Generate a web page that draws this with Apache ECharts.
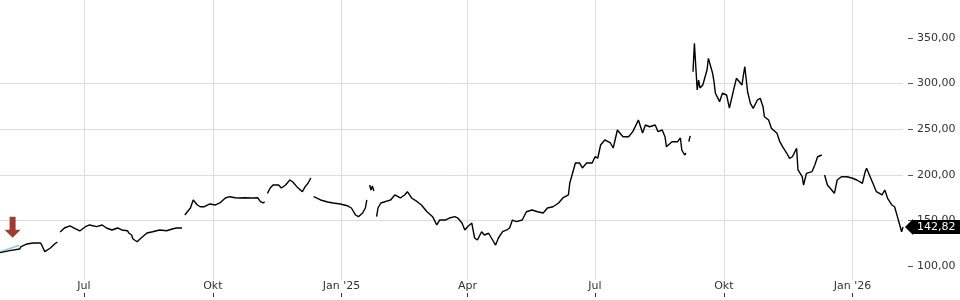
<!DOCTYPE html>
<html>
<head>
<meta charset="utf-8">
<script src="https://cdn.jsdelivr.net/npm/echarts@6/dist/echarts.min.js"></script>
<style>
html, body { margin: 0; padding: 0; background: #fff; }
#chart { width: 960px; height: 300px; }
</style>
</head>
<body>
<div id="chart"></div>
<script>
// Kursdaten (null = Lücke im Chart)
const dates = [
  '2024-05-02','2024-05-09','2024-05-16','2024-05-17','2024-05-21','2024-05-26','2024-05-31','2024-06-01','2024-06-03','2024-06-07','2024-06-10','2024-06-12','2024-06-13',
  '2024-06-14','2024-06-17','2024-06-21','2024-06-25','2024-06-28','2024-07-02','2024-07-05','2024-07-10','2024-07-14','2024-07-17','2024-07-21','2024-07-25','2024-07-28',
  '2024-08-01','2024-08-02','2024-08-04','2024-08-05','2024-08-08','2024-08-10','2024-08-15','2024-08-19','2024-08-24','2024-08-29','2024-09-02','2024-09-05','2024-09-09','2024-09-10',
  '2024-09-11','2024-09-15','2024-09-17','2024-09-20','2024-09-22','2024-09-25','2024-09-29','2024-10-03','2024-10-06','2024-10-10','2024-10-13','2024-10-17','2024-10-20',
  '2024-10-24','2024-10-28','2024-10-31','2024-11-02','2024-11-04','2024-11-06','2024-11-07','2024-11-08',
  '2024-11-09','2024-11-11','2024-11-13','2024-11-17','2024-11-19','2024-11-22','2024-11-25','2024-11-27','2024-11-30','2024-12-04','2024-12-06','2024-12-08','2024-12-10','2024-12-11',
  '2024-12-12','2024-12-14','2024-12-17','2024-12-22','2024-12-26','2024-12-31','2025-01-05','2025-01-08','2025-01-11','2025-01-13','2025-01-16','2025-01-18','2025-01-19','2025-01-20',
  '2025-01-21','2025-01-22','2025-01-23','2025-01-24','2025-01-25',
  '2025-01-26','2025-01-27','2025-01-29','2025-02-01','2025-02-05','2025-02-08','2025-02-12','2025-02-15','2025-02-17','2025-02-20','2025-02-24','2025-02-27',
  '2025-03-03','2025-03-07','2025-03-10','2025-03-12','2025-03-16','2025-03-19','2025-03-23','2025-03-25','2025-03-28','2025-03-30',
  '2025-04-01','2025-04-04','2025-04-06','2025-04-08','2025-04-11','2025-04-13','2025-04-16','2025-04-18','2025-04-21','2025-04-23','2025-04-26','2025-04-29',
  '2025-05-01','2025-05-03','2025-05-06','2025-05-10','2025-05-13','2025-05-17','2025-05-21','2025-05-25','2025-05-28',
  '2025-06-01','2025-06-05','2025-06-08','2025-06-12','2025-06-13','2025-06-15','2025-06-17','2025-06-20','2025-06-22','2025-06-25','2025-06-29',
  '2025-07-01','2025-07-03','2025-07-05','2025-07-08','2025-07-12','2025-07-14','2025-07-17','2025-07-21','2025-07-25','2025-07-28',
  '2025-08-01','2025-08-04','2025-08-06','2025-08-09','2025-08-13','2025-08-15','2025-08-18','2025-08-20','2025-08-21','2025-08-25','2025-08-29','2025-08-31',
  '2025-09-01','2025-09-03','2025-09-04','2025-09-05','2025-09-06','2025-09-07','2025-09-08',
  '2025-09-09','2025-09-10','2025-09-11','2025-09-12','2025-09-13','2025-09-14','2025-09-16','2025-09-19','2025-09-20','2025-09-23','2025-09-24','2025-09-25','2025-09-28','2025-09-30',
  '2025-10-03','2025-10-05','2025-10-08','2025-10-10','2025-10-14','2025-10-15','2025-10-16','2025-10-18','2025-10-20','2025-10-22','2025-10-25','2025-10-27','2025-10-29','2025-10-30',
  '2025-11-02','2025-11-04','2025-11-08','2025-11-10','2025-11-12','2025-11-15','2025-11-17','2025-11-19','2025-11-22','2025-11-23','2025-11-26','2025-11-27','2025-11-29',
  '2025-12-03','2025-12-05','2025-12-07','2025-12-10','2025-12-11',
  '2025-12-12','2025-12-14','2025-12-16','2025-12-19','2025-12-21','2025-12-24','2025-12-28',
  '2026-01-01','2026-01-04','2026-01-08','2026-01-10','2026-01-11','2026-01-13','2026-01-16','2026-01-18','2026-01-22','2026-01-24','2026-01-26','2026-01-29','2026-01-31',
  '2026-02-02','2026-02-04','2026-02-05','2026-02-06'
];
const prices = [
  114.6,116.8,118.6,121.2,124.1,125.2,125.2,122.3,115.7,119.7,124.1,126.3,null,
  137.3,141.7,143.9,140.6,138.4,143.1,145.0,143.1,145.0,141.7,139.5,141.7,139.5,
  138.7,136.2,134.0,129.6,126.6,129.6,136.2,137.6,139.5,138.7,140.6,141.7,141.7,null,
  155.9,163.6,172.4,166.9,165.0,165.0,168.0,166.9,169.1,174.6,176.0,174.9,174.6,
  174.9,174.6,174.6,174.9,170.5,169.1,170.5,null,
  179.7,185.5,188.8,188.8,185.5,188.8,194.3,192.4,187.0,181.5,187.0,190.7,196.5,null,
  176.0,174.6,172.4,170.2,169.1,168.0,166.1,163.6,155.9,154.1,158.1,163.6,172.4,null,
  188.8,183.3,187.7,182.2,null,
  154.1,163.6,169.1,170.5,172.4,177.9,174.6,177.9,181.5,174.6,170.5,166.9,
  159.5,154.1,145.0,150.4,150.4,152.6,154.1,152.6,147.1,139.5,
  143.1,147.1,130.7,128.5,137.6,134.0,135.9,130.7,123.0,130.7,137.6,139.5,
  141.7,150.4,148.6,150.4,159.5,161.4,159.5,158.1,163.6,
  165.0,169.1,174.6,177.9,191.0,202.0,212.9,212.9,207.5,212.9,212.9,
  219.8,218.4,232.7,238.2,234.9,229.4,249.1,241.8,241.8,247.3,
  260.1,245.8,254.6,252.7,254.6,247.3,249.1,241.8,230.8,236.3,236.3,240.4,
  227.2,221.7,223.9,null,236.3,242.6,null,
  313.0,344.2,318.5,293.0,303.9,295.2,298.5,314.9,327.7,311.3,302.1,289.4,280.2,289.4,
  287.5,273.2,293.0,305.8,298.5,309.4,318.5,291.1,278.4,272.9,282.0,283.9,274.7,263.7,
  260.1,251.0,245.5,236.3,230.8,223.6,218.1,219.8,229.1,205.3,197.9,188.8,201.6,
  203.4,210.7,219.8,221.7,null,
  199.8,188.8,185.2,179.7,194.3,197.9,197.9,
  196.2,194.3,190.7,203.4,207.1,199.8,188.8,181.5,177.9,183.3,174.2,166.9,165.0,
  154.1,143.1,137.6,142.82
];
const trendDates = ['2024-05-02', '2024-05-16'];
const trendValues = [115.5, 122.8];
const signalDate = '2024-05-11';
const signalValue = 142.4;
const yTicks = [100, 150, 200, 250, 300, 350];
const monthNames = ['Jan', 'Feb', 'Mär', 'Apr', 'Mai', 'Jun', 'Jul', 'Aug', 'Sep', 'Okt', 'Nov', 'Dez'];

const DAY = 24 * 3600 * 1000;
const lastDate = dates[dates.length - 1];
const lastValue = prices[prices.length - 1];

function fmtPrice(v) {
  return Number(v).toFixed(2).replace('.', ',');
}
function fmtDate(v) {
  const d = new Date(v);
  const m = d.getMonth();
  if (m === 0) return "Jan '" + String(d.getFullYear()).slice(2);
  return monthNames[m];
}

const option = {
  animation: false,
  grid: { left: 0, right: 57, top: 0, bottom: 20 },
  xAxis: {
    type: 'time',
    min: '2024-05-02',
    max: '2026-02-06',
    offset: 13,
    minInterval: 95 * DAY,
    maxInterval: 95 * DAY,
    axisLine: { show: false },
    axisTick: { show: true, length: 4, lineStyle: { color: '#333' } },
    axisLabel: {
      inside: true, margin: 1, color: '#333', fontSize: 11, fontFamily: 'DejaVu Sans',
      formatter: fmtDate, hideOverlap: false
    },
    splitLine: { show: true, showMinLine: false, showMaxLine: false, lineStyle: { color: '#dcdcdc', width: 1 } }
  },
  yAxis: {
    type: 'value',
    position: 'right',
    min: 84.65,
    max: 391.67,
    offset: 5,
    minInterval: 50,
    maxInterval: 50,
    axisLine: { show: false },
    axisTick: { show: true, length: 5, lineStyle: { color: '#555' }, customValues: yTicks },
    axisLabel: {
      margin: 9, color: '#333', fontSize: 11, fontFamily: 'DejaVu Sans',
      customValues: yTicks, formatter: fmtPrice
    },
    splitLine: { show: true, showMinLine: false, showMaxLine: false, lineStyle: { color: '#dcdcdc', width: 1 } }
  },
  series: [
    {
      type: 'line',
      z: 1,
      showSymbol: false,
      silent: true,
      data: trendDates.map((d, i) => [d, trendValues[i]]),
      lineStyle: { color: '#8ccdd1', width: 1.5 }
    },
    {
      type: 'line',
      z: 3,
      showSymbol: false,
      connectNulls: false,
      data: dates.map((d, i) => [d, prices[i]]),
      lineStyle: { color: '#000', width: 1.4 },
      markPoint: {
        silent: true,
        animation: false,
        label: { show: false },
        data: [
          {
            coord: [signalDate, signalValue],
            symbol: 'path://M5,0 L11,0 L11,13 L16,13 L8,21 L0,13 L5,13 Z',
            symbolSize: [16, 21],
            itemStyle: { color: '#a03a32' }
          },
          {
            coord: [lastDate, lastValue],
            symbol: 'triangle',
            symbolRotate: 90,
            symbolSize: [16, 8],
            symbolOffset: [6, 0],
            itemStyle: { color: '#000' }
          }
        ]
      },
      markLine: {
        silent: true,
        animation: false,
        symbol: 'none',
        lineStyle: { color: 'rgba(0,0,0,0)' },
        data: [{ yAxis: lastValue }],
        label: {
          position: 'end', distance: 9, opacity: 1,
          formatter: () => fmtPrice(lastValue),
          color: '#fff', backgroundColor: '#000', padding: [2, 5, 1, 5],
          fontSize: 11, fontFamily: 'DejaVu Sans'
        }
      }
    }
  ]
};

const chart = echarts.init(document.getElementById('chart'));
chart.setOption(option);
</script>
</body>
</html>
